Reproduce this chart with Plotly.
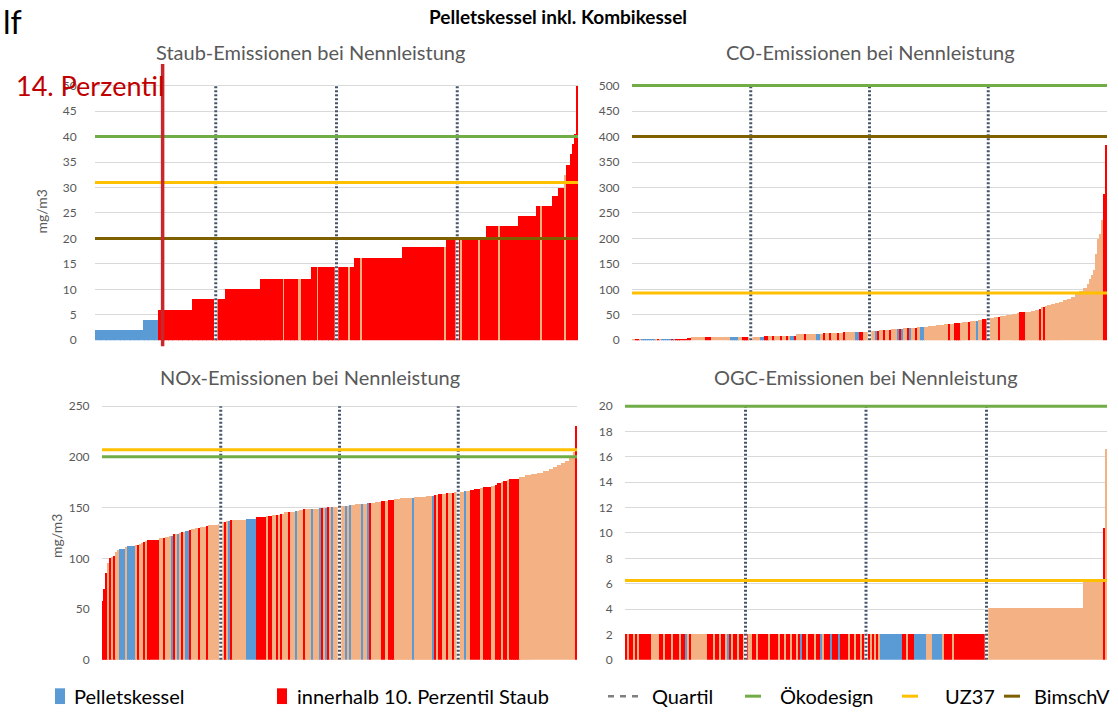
import plotly.graph_objects as go

W, H = 1118, 713
PAL = {"B": "#5b9bd5", "R": "#ff0000", "S": "#f4b183"}
GREEN, YELLOW, OLIVE, QCOL = "#70ad47", "#ffc000", "#7f6000", "#44546a"
GRAY = "#595959"
FONT = "Lato"

# ---------------- data (run-length: value, count, colour code) ----------------
staub_values = [2.0, 4.1, 6.1, 8.2, 10.2, 12.1, 12.1, 12.1, 12.1, 12.1, 14.4, 14.4, 14.4, 14.4, 14.4,
                16.3, 16.3, 16.3, 18.4, 18.4, 20.3, 20.3, 20.3, 20.3, 20.3, 22.5, 22.5, 22.5, 24.4,
                26.4, 26.4, 26.4, 28.4, 30.0, 32.6, 34.4, 36.7, 38.7, 40.6, 50.0]
staub_counts = [24, 8, 17, 16, 18, 11, 1, 7, 1, 5, 3, 1, 15, 1, 2, 3, 1, 20, 21, 1, 7, 1, 8, 1, 3,
                6, 1, 9, 9, 2, 1, 5, 3, 3, 1, 2, 1, 1, 1, 1]
staub_colors = "BBRRR" + "RSRSR" + "RSRSR" + "RSR" + "RS" + "RSRSR" + "RSR" + "R" + "RSR" + "RR" + "S" + "RRRRR"

co_values = [3, 2, 2, 2, 3, 3, 3, 3, 3, 3, 4, 5, 7, 7, 7, 7, 8, 8, 8, 8, 9, 10, 10, 10, 10, 10, 10, 10, 10, 10,
             12, 12, 12, 13, 13, 14, 14, 14, 14, 14, 14, 16, 16, 16, 16, 17,
             19, 19, 19, 20, 20, 21, 21, 22, 23, 23, 23, 24, 24, 24, 25, 25, 26, 26, 27, 28, 29, 30, 31, 32,
             33, 33, 34, 35, 36, 37, 38, 39, 40, 42, 43,
             45, 46, 47, 48, 50, 52, 54, 56,
             57, 59, 61, 63, 65, 66, 68,
             70, 72, 74, 76, 79, 82, 86, 91,
             97, 103, 112, 120, 128, 138, 170, 200, 210, 237, 287, 385]
co_counts = [2, 2, 1, 7, 1, 1, 1, 5, 1, 1, 6, 2, 7, 3, 10, 4, 2, 3, 6, 2, 2, 2, 1, 3, 1, 2, 1, 1, 2, 1,
             4, 1, 5, 2, 2, 1, 2, 1, 3, 1, 2, 1, 5, 2, 2, 4,
             2, 1, 1, 2, 1, 2, 1, 3, 1, 1, 1, 2, 1, 1, 2, 1, 2, 2, 2, 2, 2, 2, 2, 2,
             1, 2, 3, 1, 3, 1, 3, 1, 2, 3, 1,
             2, 2, 1, 3, 3, 3, 1, 3,
             3, 2, 2, 1, 1, 1, 1,
             2, 2, 2, 2, 2, 2, 2, 2,
             2, 2, 1, 1, 1, 1, 1, 1, 1, 1, 1, 1]
co_colors = ("SRSBSRSBRBRRSRSBSRSBRSRSRSRSBRSRSBSRSRSRSRSBRS"
             + "SBRSRSRSBRBSRBSRSBSSSSSSRSRSSRSBSRS"
             + "SSRSSSSR" + "SSSRSRS" + "SSSSSSSS" + "SSSSSSSSSSRR")

nox_values = [58, 70, 85, 95, 100, 101, 102, 106, 108, 109, 111, 112, 113, 113, 114, 115, 116, 117, 118,
              120, 120, 121, 122, 122, 124, 124, 124, 125, 126, 126, 127, 128, 129, 130, 130, 131, 132,
              133, 134, 135, 136, 136, 137, 137, 138, 138, 138, 139, 141, 142, 142, 143, 143, 143, 144,
              144, 145, 145, 145, 146, 146, 147, 148, 148, 148, 148, 149, 149, 149, 149, 150, 150, 150,
              150, 150, 151, 151, 151, 152, 152, 153, 153, 153, 154, 154, 154, 155, 156, 156, 157, 158,
              159, 159, 160, 161, 161, 162, 162, 163, 163, 164, 164, 164, 165, 165, 166, 166, 167, 168,
              169, 170, 171, 172, 174, 175, 176, 177, 178, 180, 182, 183, 184, 186, 188, 190, 192, 194,
              196, 199, 205, 230]
nox_counts = [1, 1, 1, 1, 1, 1, 1, 1, 1, 3, 1, 4, 1, 1, 1, 1, 1, 1, 6, 2, 1, 2, 1, 1, 1, 1, 1, 1, 1,
              1, 2, 1, 2, 2, 1, 3, 1, 5, 1, 1, 1, 1, 1, 1, 1, 1, 6, 5, 5, 1, 2, 2, 1, 1, 1, 1,
              2, 1, 3, 1, 1, 2, 1, 3, 1, 3, 1, 1, 1, 1, 1, 1, 1, 1, 2, 3, 1, 1, 1, 2, 3, 1, 2, 1, 1, 2,
              3, 2, 2, 3, 3, 6, 1, 6, 3, 1, 1, 1, 2, 2, 1, 2, 1, 2, 3, 1, 2, 2, 3, 2, 4, 2, 1,
              2, 1, 2, 1, 5, 3, 3, 3, 3, 3, 2, 2, 2, 2, 2, 2, 1, 1]
nox_colors = ("RRRS" + "RSR" + "SS" + "BSB" + "SRS" + "SRS" + "R" + "SRSSB" + "RSBSR" + "SBRS" + "SRSR"
              + "S" + "SB" + "SRSBRS" + "S" + "B" + "R" + "SRSRSRS" + "SRSBS" + "SRSBSB" + "RSBRSBS"
              + "S" + "SBSBS" + "SBSBRS" + "SRS" + "RS" + "SBS" + "SBRS" + "RSRSRS" + "SBSR" + "RSRSR"
              + "RSRSR" + "SSSSSSSSSSSS" + "R")

ogc_levels = [2.0, 4.1, 6.1, 10.4, 16.6]
ogc_level_counts = [180, 48, 10, 1, 1]
ogc_color_counts = [1, 1, 2, 1, 1, 1, 2, 4, 4, 2, 1, 3, 1, 3, 1, 2, 1, 1, 1, 1, 7, 3, 1, 2, 1, 2, 1, 1,
                    1, 1, 2, 1, 2, 1, 1, 2, 2, 1, 5, 1, 2, 2, 1, 2, 1, 2, 1, 2, 1, 1, 1,
                    2, 1, 3, 1, 2, 1, 1, 3, 1, 3, 1, 2, 2, 1, 2, 1, 2, 1, 2, 1, 1, 1, 1, 1, 1, 1,
                    11, 2, 1, 3, 6, 3, 5, 1, 2, 2, 1, 2, 14, 48, 10, 1, 1]
ogc_colors = ("RSRSRSR" + "R" + "S" + "RSRSRSRB" + "SRS" + "S" + "RSRSRSB" + "RSRSR" + "SRS" + "RSRSR"
              + "RSRSRSRSRB" + "RSRSRBS" + "RBRBR" + "RSRSRSR" + "SRSRSRS" + "B" + "RSR" + "B" + "S"
              + "B" + "SR" + "RSR" + "R" + "S" + "S" + "R" + "S")

limit_names = ["Ökodesign", "UZ37", "BimschV"]
limit_colors = [GREEN, YELLOW, OLIVE]
staub_limits = [40, 31, 20]
co_limits = [500, 93, 400]
nox_limits = [200, 207, None]
ogc_limits = [20, 6.25, None]

quartiles = [0.25, 0.5, 0.75]
perzentil_staub = 0.14

titles = ["Staub-Emissionen bei Nennleistung", "CO-Emissionen bei Nennleistung",
          "NOx-Emissionen bei Nennleistung", "OGC-Emissionen bei Nennleistung"]


def expand(values, counts):
    out = []
    for v, n in zip(values, counts):
        out += [v] * n
    return out


def colour_list(codes, counts):
    return [PAL[c] for c in expand(list(codes), counts)]


staub_y = expand(staub_values, staub_counts)
staub_c = colour_list(staub_colors, staub_counts)
co_y = expand(co_values, co_counts)
co_c = colour_list(co_colors, co_counts)
nox_y = expand(nox_values, nox_counts)
nox_c = colour_list(nox_colors, nox_counts)
ogc_y = expand(ogc_levels, ogc_level_counts)
ogc_c = colour_list(ogc_colors, ogc_color_counts)

# pixel boxes (left, top-of-axis-max, right, bottom)
panels = [
    dict(y=staub_y, c=staub_c, lim=staub_limits, box=(95, 82, 578, 341), ymax=50, dtick=5, tl=15),
    dict(y=co_y, c=co_c, lim=co_limits, box=(632, 82, 1107, 341), ymax=500, dtick=50, tl=9),
    dict(y=nox_y, c=nox_c, lim=nox_limits, box=(102, 408, 577, 666), ymax=250, dtick=50, tl=9),
    dict(y=ogc_y, c=ogc_c, lim=ogc_limits, box=(625, 408, 1107, 666), ymax=20, dtick=2, tl=9),
]
HEAD = 3  # px of headroom above the top gridline so limit lines there are not clipped


def px(x):
    return x / W


def py(y):
    return 1 - y / H


fig = go.Figure()
layout = dict(width=W, height=H, margin=dict(l=0, r=0, t=0, b=0), showlegend=False,
              paper_bgcolor="white", plot_bgcolor="white", bargap=0,
              font=dict(family=FONT, color=GRAY))

for i, p in enumerate(panels):
    k = "" if i == 0 else str(i + 1)
    xa, ya = "x" + k, "y" + k
    n = len(p["y"])
    L, T, R, B = p["box"]
    top_range = p["ymax"] * (B - T + HEAD) / (B - T)
    fig.add_trace(go.Bar(x=list(range(n)), y=p["y"], marker=dict(color=p["c"], line=dict(width=0)),
                         width=1.0, xaxis=xa, yaxis=ya, hoverinfo="y"))
    for q in quartiles:
        xq = -0.5 + q * n
        fig.add_trace(go.Scatter(x=[xq, xq], y=[0, p["ymax"]], mode="lines", xaxis=xa, yaxis=ya,
                                 line=dict(color="white", width=3.5), hoverinfo="skip"))
        fig.add_trace(go.Scatter(x=[xq, xq], y=[0, p["ymax"]], mode="lines", xaxis=xa, yaxis=ya,
                                 line=dict(color=QCOL, width=3, dash="2px,2px"), hoverinfo="skip"))
    for v, col in zip(p["lim"], limit_colors):
        if v is None:
            continue
        fig.add_trace(go.Scatter(x=[-0.5, n - 0.5], y=[v, v], mode="lines", xaxis=xa, yaxis=ya,
                                 line=dict(color=col, width=3), hoverinfo="skip"))
    layout["xaxis" + k] = dict(domain=[px(L), px(R)], range=[-0.5, n - 0.5], anchor=ya,
                               showticklabels=False, showgrid=False, zeroline=False, showline=False,
                               fixedrange=True)
    layout["yaxis" + k] = dict(domain=[py(B), py(T - HEAD)], range=[0, top_range], anchor=xa,
                               tick0=0, dtick=p["dtick"],
                               showgrid=True, gridcolor="#d9d9d9", gridwidth=1, zeroline=False,
                               showline=False, ticks="outside", ticklen=p["tl"],
                               tickcolor="rgba(0,0,0,0)", tickfont=dict(size=12, color=GRAY, family=FONT),
                               fixedrange=True)

fig.update_layout(**layout)

# 14. Perzentil marker line in the Staub panel
n0 = len(staub_y)
xp = -0.5 + perzentil_staub * n0
fig.add_shape(type="line", xref="x", yref="paper", x0=xp, x1=xp, y0=py(347), y1=py(60),
              line=dict(color="#c8282d", width=3.5), layer="above")


def note(text, x, y, size, color, xanchor="center", angle=0):
    return dict(text=text, x=px(x), y=py(y), xref="paper", yref="paper", showarrow=False,
                xanchor=xanchor, yanchor="middle", textangle=angle,
                font=dict(size=size, color=color, family=FONT))


ann = []
ann.append(note("<b>Pelletskessel inkl. Kombikessel</b>", 558, 12, 19, "#000000"))
ann.append(note("lf", 24, 17, 32, "#000000", xanchor="right"))
centers = [(310, 48), (870, 48), (310, 378), (866, 378)]
for t, (cx, cy) in zip(titles, centers):
    ann.append(note(t, cx, cy, 20, GRAY))
ann.append(note("mg/m3", 41, 210, 14, GRAY, angle=-90))
ann.append(note("mg/m3", 57, 540, 14, GRAY, angle=-90))
ann.append(note("14. Perzentil", 166, 82, 27, "#c00000", xanchor="right"))

# legend (drawn manually)
leg_y = 703
shapes = []
legend_items = [
    ("rect", PAL["B"], 55, 72, "Pelletskessel"),
    ("rect", PAL["R"], 277, 295, "innerhalb 10. Perzentil Staub"),
    ("dash", "#7f7f7f", 608, 650, "Quartil"),
    ("line", GREEN, 745, 778, limit_names[0]),
    ("line", YELLOW, 902, 943, limit_names[1]),
    ("line", OLIVE, 1004, 1032, limit_names[2]),
]
for kind, col, x0, xt, label in legend_items:
    if kind == "rect":
        shapes.append(dict(type="rect", xref="paper", yref="paper", x0=px(x0), x1=px(x0 + 10),
                           y0=py(leg_y + 8), y1=py(leg_y - 8), fillcolor=col, line=dict(width=0)))
    elif kind == "dash":
        shapes.append(dict(type="line", xref="paper", yref="paper", x0=px(x0), x1=px(x0 + 31),
                           y0=py(leg_y), y1=py(leg_y), line=dict(color=col, width=2.5, dash="6px,6px")))
    else:
        shapes.append(dict(type="line", xref="paper", yref="paper", x0=px(x0), x1=px(x0 + 16),
                           y0=py(leg_y), y1=py(leg_y), line=dict(color=col, width=3)))
    ann.append(note(label, xt, leg_y, 20, "#000000", xanchor="left"))

fig.update_layout(annotations=ann, shapes=list(fig.layout.shapes) + shapes)

fig.write_html("out.html", config={"displayModeBar": False},
               post_script="document.body.style.margin='0px';")
